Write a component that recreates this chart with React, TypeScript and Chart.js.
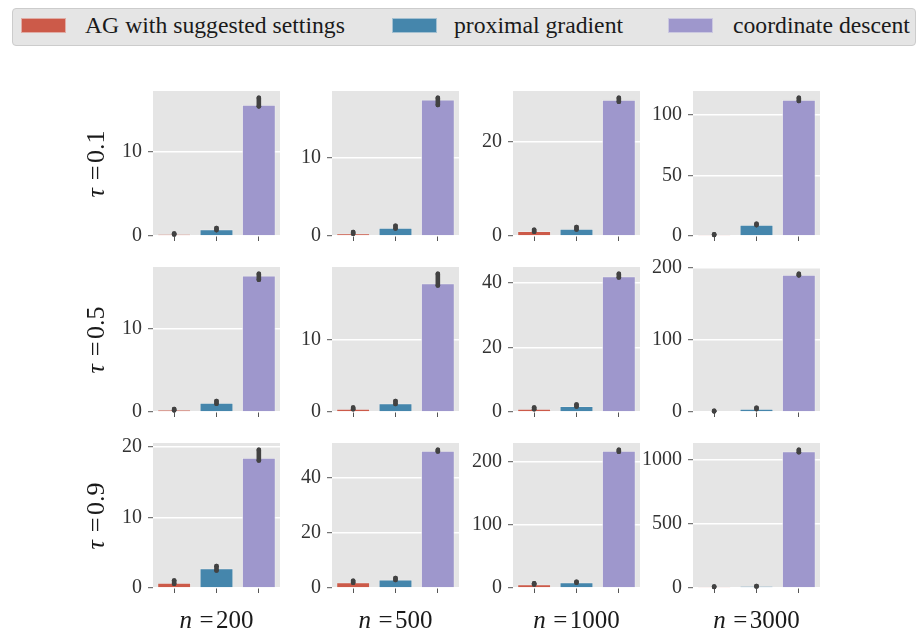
import React, { useEffect, useRef } from 'react';
import { Chart, registerables } from 'chart.js';

Chart.register(...registerables);

// ---- data ----
const methods = ['AG with suggested settings', 'proximal gradient', 'coordinate descent'];
const tauLabels = ['0.1', '0.5', '0.9'];
const nLabels = ['200', '500', '1000', '3000'];

// mean run time, one list per n (columns), each [AG, PG, CD]
const meanTau01 = [[0.22, 0.8, 15.6], [0.35, 1.05, 17.4], [1.05, 1.55, 28.8], [1.0, 9.3, 112.5]];
const lowTau01 = [[0.17, 0.7, 15.4], [0.3, 0.95, 16.7], [0.9, 1.4, 28.4], [0.8, 9.0, 111.5]];
const highTau01 = [[0.3, 0.95, 16.4], [0.5, 1.3, 17.6], [1.3, 1.9, 29.2], [1.4, 10.0, 114.0]];

const meanTau05 = [[0.25, 1.1, 16.3], [0.45, 1.2, 17.7], [1.0, 1.85, 42.0], [1.2, 4.6, 190.5]];
const lowTau05 = [[0.2, 1.0, 15.8], [0.38, 1.1, 17.4], [0.85, 1.7, 41.6], [0.9, 4.0, 189.5]];
const highTau05 = [[0.35, 1.3, 16.5], [0.6, 1.5, 19.0], [1.4, 2.3, 42.7], [1.6, 5.8, 191.5]];

const meanTau09 = [[0.75, 2.8, 18.5], [2.1, 3.1, 49.9], [6.0, 9.0, 217], [10, 14, 1063]];
const lowTau09 = [[0.6, 2.5, 18.1], [1.9, 2.9, 49.6], [5.5, 8.2, 215.5], [8, 12, 1055]];
const highTau09 = [[1.05, 3.1, 19.6], [2.6, 3.6, 50.2], [7.5, 10.0, 218.5], [12, 16, 1073]];

const stepTau01 = [10, 10, 20, 50];
const stepTau05 = [10, 10, 20, 100];
const stepTau09 = [10, 20, 100, 500];

const MEANS = [meanTau01, meanTau05, meanTau09];
const LOWS = [lowTau01, lowTau05, lowTau09];
const HIGHS = [highTau01, highTau05, highTau09];
const STEPS = [stepTau01, stepTau05, stepTau09];

// ---- style ----
const COLORS = ['#CC5A49', '#4586AC', '#9E97CC'];
const ERR = '#424242';
const FONT = "'Liberation Serif', serif";
const PLOT_LEFT = [153, 332, 513, 693];
const PLOT_TOP = [91, 267, 443];
const PLOT_W = 127;
const PLOT_H = 145;
const AXIS_W = 70;
const PAD_TOP = 26;
const PAD_RIGHT = 5;
const PAD_BOTTOM = 26;
const XAXIS_H = 10;

const bgPlugin = {
  id: 'panelBg',
  beforeDraw(chart: any) {
    const { ctx, chartArea: a } = chart;
    ctx.save();
    ctx.fillStyle = '#E5E5E5';
    ctx.fillRect(a.left, a.top, a.right - a.left, a.bottom - a.top);
    ctx.restore();
  },
};

function Panel({ row, col }: { row: number; col: number }) {
  const ref = useRef<HTMLCanvasElement>(null);
  useEffect(() => {
    const means = MEANS[row][col];
    const lows = LOWS[row][col];
    const highs = HIGHS[row][col];
    const step = STEPS[row][col];
    const yMax = Math.max(...highs) * 1.05;
    const errSets = methods.map((m, i) => ({
      type: 'line' as const,
      data: [
        { x: m, y: lows[i] },
        { x: m, y: highs[i] },
      ],
      borderColor: ERR,
      borderWidth: 4.6,
      borderCapStyle: 'round',
      pointRadius: 2.3,
      pointHoverRadius: 2.3,
      pointBorderWidth: 0,
      pointBackgroundColor: ERR,
      fill: false,
      clip: false,
      order: 1,
    }));
    const chart = new Chart(ref.current as HTMLCanvasElement, {
      type: 'bar',
      data: {
        labels: methods,
        datasets: [
          {
            type: 'bar',
            data: means,
            backgroundColor: COLORS,
            borderColor: 'rgba(240,240,240,0.55)',
            borderWidth: 1,
            barPercentage: 0.8,
            categoryPercentage: 1,
            order: 2,
          } as any,
          ...(errSets as any[]),
        ],
      },
      options: {
        responsive: false,
        animation: false,
        events: [],
        layout: { padding: { top: PAD_TOP, right: PAD_RIGHT, bottom: PAD_BOTTOM, left: 0 } },
        plugins: { legend: { display: false }, tooltip: { enabled: false } },
        scales: {
          x: {
            type: 'category',
            offset: true,
            grid: {
              display: true,
              drawOnChartArea: false,
              offset: false,
              drawTicks: true,
              tickColor: '#555555',
              tickLength: 5,
              tickWidth: 1,
            },
            border: { display: false },
            ticks: { callback: () => '', padding: 0, autoSkip: false },
            afterFit: (s: any) => {
              s.height = XAXIS_H;
            },
          },
          y: {
            type: 'linear',
            min: 0,
            max: yMax,
            grid: {
              color: '#FFFFFF',
              lineWidth: 1.4,
              tickColor: '#555555',
              tickLength: 5,
              tickWidth: 1,
            },
            border: { display: false },
            ticks: {
              stepSize: step,
              includeBounds: false,
              autoSkip: false,
              color: '#333333',
              padding: 6,
              font: { family: FONT, size: 20 },
              callback: (v: any) => String(v),
            },
            afterBuildTicks: (s: any) => {
              const t: { value: number }[] = [];
              for (let k = 0; k * step <= s.max + 1e-9; k++) t.push({ value: k * step });
              s.ticks = t;
            },
            afterFit: (s: any) => {
              s.width = AXIS_W;
            },
          },
        },
      } as any,
      plugins: [bgPlugin],
    });
    return () => chart.destroy();
  }, [row, col]);
  const w = AXIS_W + PLOT_W + PAD_RIGHT;
  const h = PAD_TOP + PLOT_H + XAXIS_H + PAD_BOTTOM;
  return (
    <canvas
      ref={ref}
      width={w}
      height={h}
      style={{
        position: 'absolute',
        left: PLOT_LEFT[col] - AXIS_W,
        top: PLOT_TOP[row] - PAD_TOP,
        width: w,
        height: h,
      }}
    />
  );
}

const legendItems = [
  { patch: 21, text: 85 },
  { patch: 392, text: 454 },
  { patch: 668, text: 733 },
];

export default function App() {
  const panels: JSX.Element[] = [];
  for (let r = 0; r < 3; r++) {
    for (let c = 0; c < 4; c++) {
      panels.push(<Panel key={`${r}-${c}`} row={r} col={c} />);
    }
  }
  return (
    <div
      style={{
        position: 'absolute',
        left: 0,
        top: 0,
        width: 922,
        height: 634,
        background: '#FFFFFF',
        fontFamily: FONT,
        color: '#1a1a1a',
        overflow: 'hidden',
      }}
    >
      {/* legend */}
      <div
        style={{
          position: 'absolute',
          left: 12,
          top: 8,
          width: 902,
          height: 36,
          background: '#E5E5E5',
          border: '1px solid #CCCCCC',
          borderRadius: 4,
        }}
      />
      {methods.map((m, i) => (
        <React.Fragment key={m}>
          <div
            style={{
              position: 'absolute',
              left: legendItems[i].patch,
              top: 18,
              width: 45,
              height: 15,
              background: COLORS[i],
              boxSizing: 'border-box',
              border: '1px solid rgba(240,240,240,0.55)',
            }}
          />
          <div
            style={{
              position: 'absolute',
              left: legendItems[i].text,
              top: 7,
              height: 36,
              lineHeight: '36px',
              fontSize: 23.7,
              whiteSpace: 'nowrap',
            }}
          >
            {m}
          </div>
        </React.Fragment>
      ))}
      {panels}
      {/* row labels */}
      {tauLabels.map((t, r) => (
        <div
          key={t}
          style={{
            position: 'absolute',
            left: 96 - 70,
            top: PLOT_TOP[r] + PLOT_H / 2 - 12,
            width: 140,
            height: 24,
            lineHeight: '24px',
            fontSize: 26,
            textAlign: 'center',
            whiteSpace: 'nowrap',
            transform: 'rotate(-90deg)',
          }}
        >
          <i>τ</i>
          <span style={{ marginLeft: '0.3em', marginRight: '0.1em' }}>=</span>
          {t}
        </div>
      ))}
      {/* column labels */}
      {nLabels.map((n, c) => (
        <div
          key={n}
          style={{
            position: 'absolute',
            left: PLOT_LEFT[c] + PLOT_W / 2 - 70,
            top: 607,
            width: 140,
            height: 25,
            lineHeight: '25px',
            fontSize: 25,
            textAlign: 'center',
            whiteSpace: 'nowrap',
          }}
        >
          <i>n</i>
          <span style={{ marginLeft: '0.3em', marginRight: '0.1em' }}>=</span>
          {n}
        </div>
      ))}
    </div>
  );
}
